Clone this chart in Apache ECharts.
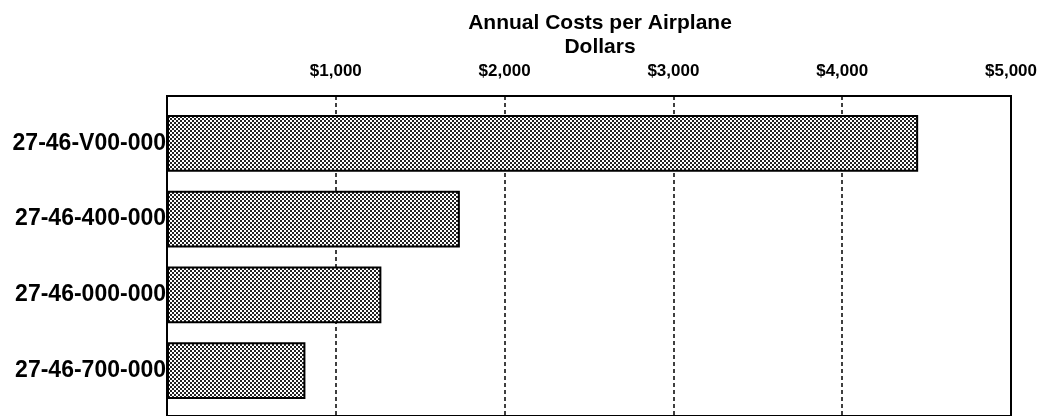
<!DOCTYPE html>
<html>
<head>
<meta charset="utf-8">
<script src="https://cdn.jsdelivr.net/npm/echarts@6/dist/echarts.min.js"></script>
<style>html,body{margin:0;padding:0;background:#fff;}#c{width:1042px;height:416px;}</style>
</head>
<body>
<div id="c"></div>
<script>
var categories = ['27-46-V00-000', '27-46-400-000', '27-46-000-000', '27-46-700-000'];
var costs = [4450, 1735, 1270, 820];
var xTicks = [0, 1000, 2000, 3000, 4000, 5000];

var titleText = 'Annual Costs per Airplane\nDollars';

// checker pattern for bar fill
var pc = document.createElement('canvas');
pc.width = 4; pc.height = 4;
var pctx = pc.getContext('2d');
pctx.fillStyle = '#ffffff'; pctx.fillRect(0, 0, 4, 4);
pctx.fillStyle = '#222222';
pctx.fillRect(0, 0, 2, 2); pctx.fillRect(2, 2, 2, 2);

var chart = echarts.init(document.getElementById('c'), null, {renderer: 'canvas'});
var font = 'Liberation Sans, Arial, Helvetica, sans-serif';
var option = {
  backgroundColor: '#ffffff',
  animation: false,
  title: {
    text: titleText,
    left: 595,
    top: 6,
    textAlign: 'center',
    textStyle: {fontFamily: font, fontSize: 21, fontWeight: 'bold', color: '#000', lineHeight: 24}
  },
  grid: [
    {left: 167, right: 31, top: 96, height: 322, show: true, borderColor: '#000', borderWidth: 2, backgroundColor: 'transparent'},
    {left: 167, right: 31, top: 105.6, height: 302.8}
  ],
  xAxis: [
    {
      gridIndex: 0, type: 'value', position: 'top',
      min: xTicks[0], max: xTicks[xTicks.length - 1], interval: 1000,
      axisLine: {show: true, lineStyle: {color: '#000', width: 2}},
      axisTick: {show: true, inside: true, length: 15, lineStyle: {color: '#000', width: 2}},
      axisLabel: {
        show: true, showMinLabel: false, margin: 16,
        fontFamily: font, fontSize: 17, fontWeight: 'bold', color: '#000',
        formatter: function (v) { return '$' + v.toLocaleString('en-US'); }
      },
      splitLine: {show: true, lineStyle: {color: '#000', width: 1.5, type: [4, 3]}}
    },
    {
      gridIndex: 1, type: 'value', min: xTicks[0], max: xTicks[xTicks.length - 1],
      show: false
    }
  ],
  yAxis: [
    {gridIndex: 0, type: 'value', min: 0, max: 1, show: false},
    {
      gridIndex: 1, type: 'category', data: categories, inverse: true,
      axisLine: {show: false},
      axisTick: {show: true, inside: true, alignWithLabel: true, length: 8, lineStyle: {color: '#000', width: 1.5}},
      axisLabel: {margin: 1, fontFamily: font, fontSize: 23, fontWeight: 'bold', color: '#000'},
      splitLine: {show: false}
    }
  ],
  series: [{
    type: 'bar',
    xAxisIndex: 1,
    yAxisIndex: 1,
    data: costs,
    barWidth: '75%',
    itemStyle: {
      color: {image: pc, repeat: 'repeat'},
      borderColor: '#000',
      borderWidth: 2
    }
  }]
};
chart.setOption(option);
</script>
</body>
</html>
